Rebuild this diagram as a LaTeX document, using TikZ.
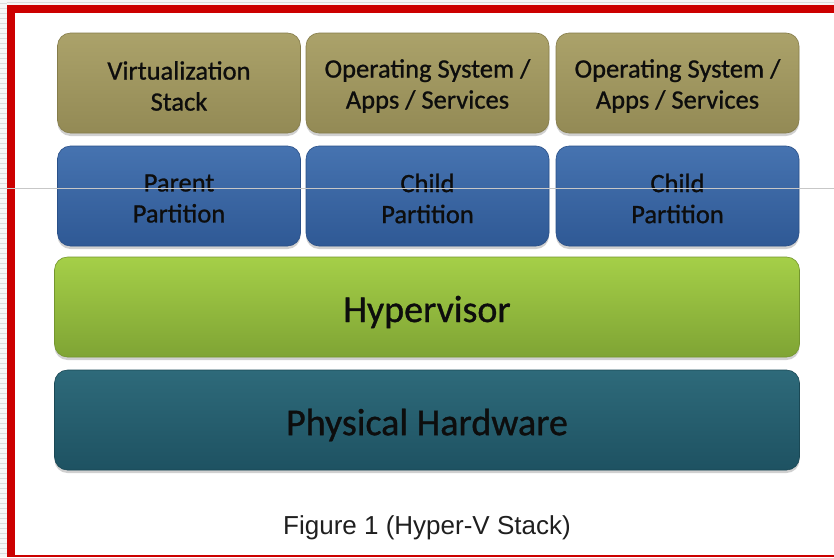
\documentclass[tikz,border=0pt]{standalone}
\usepackage{fontspec}
\setmainfont{Carlito}[FakeBold=0.9]
\newfontfamily\capfont{Liberation Sans}
\usetikzlibrary{shadows}
\definecolor{redframe}{HTML}{CC0000}
\definecolor{oliveT}{HTML}{ABA26A}
\definecolor{oliveB}{HTML}{938A55}
\definecolor{oliveD}{HTML}{857C4A}
\definecolor{blueT}{HTML}{4673B0}
\definecolor{blueB}{HTML}{2F5995}
\definecolor{blueD}{HTML}{2A5088}
\definecolor{greenT}{HTML}{A5CF48}
\definecolor{greenB}{HTML}{7FA434}
\definecolor{greenD}{HTML}{74962E}
\definecolor{tealT}{HTML}{2E6A7A}
\definecolor{tealB}{HTML}{1E5262}
\definecolor{tealD}{HTML}{1A4855}
\begin{document}
\begin{tikzpicture}[x=1pt,y=-1pt,
  layerbox/.style={rectangle, rounded corners=13pt, inner sep=0pt,
    minimum height=100pt, line width=0.6pt,
    drop shadow={shadow xshift=0pt, shadow yshift=-3pt, opacity=0.3, fill=black!60}},
  smallbox/.style={layerbox, minimum width=243pt},
  widebox/.style={layerbox, minimum width=745pt},
  olivebox/.style={smallbox, top color=oliveT, bottom color=oliveB, draw=oliveD},
  bluebox/.style={smallbox, top color=blueT, bottom color=blueB, draw=blueD},
  greenbox/.style={widebox, top color=greenT, bottom color=greenB, draw=greenD},
  tealbox/.style={widebox, top color=tealT, bottom color=tealB, draw=tealD},
  smalltext/.style={align=center, inner sep=0pt, text=black!95, font=\fontsize{26.5}{31}\selectfont},
  bigtext/.style={inner sep=0pt, text=black!95, font=\fontsize{38}{44}\selectfont},
  captext/.style={font=\capfont\fontsize{26}{30}\selectfont, text=black!88}
]
\useasboundingbox (0,0) rectangle (834,557);
% outer background
\fill[white] (0,0) rectangle (834,557);
\fill[gray!7] (0,0) rectangle (7,557);
\fill[gray!7] (0,0) rectangle (834,5);
\foreach \yy in {3,8,...,557} \draw[gray!28, line width=0.8pt] (0,\yy) -- (7,\yy);
\draw[gray!28, line width=0.8pt] (7,2) -- (834,2);
% red frame
\fill[redframe] (7,5) rectangle (834,13);
\fill[redframe] (7,5) rectangle (15,557);
\fill[redframe] (7,555) rectangle (834,557);
% top row
\node[olivebox] (vstack) at (179,83) {};
\node[olivebox] (os1) at (427.5,83) {};
\node[olivebox] (os2) at (677.5,83) {};
\node[smalltext] (vstack-t) at ([yshift=-3pt]vstack.center) {Virtualization\\Stack};
\node[smalltext] (os1-t) at ([yshift=-3pt]os1.center) {Operating System /\\Apps / Services};
\node[smalltext] (os2-t) at ([yshift=-3pt]os2.center) {Operating System /\\Apps / Services};
% partitions
\node[bluebox] (parent) at (179,196) {};
\node[bluebox] (child1) at (427.5,196) {};
\node[bluebox] (child2) at (677.5,196) {};
\node[smalltext] (parent-t) at ([yshift=-2.5pt]parent.center) {Parent\\Partition};
\node[smalltext] (child1-t) at ([yshift=-2.5pt]child1.center) {Child\\Partition};
\node[smalltext] (child2-t) at ([yshift=-2.5pt]child2.center) {Child\\Partition};
% hypervisor and hardware
\node[greenbox] (hyper) at (427,307) {};
\node[tealbox] (hw) at (427,420) {};
\node[bigtext] (hyper-t) at ([yshift=-5pt]hyper.center) {Hypervisor};
\node[bigtext] (hw-t) at ([yshift=-5pt]hw.center) {Physical Hardware};
% caption
\node[captext] (cap) at (427,528) {Figure 1 (Hyper-V Stack)};
% thin scan line across the picture
\draw[black!22, line width=0.7pt] (0,188) -- (834,188);
\end{tikzpicture}
\end{document}
